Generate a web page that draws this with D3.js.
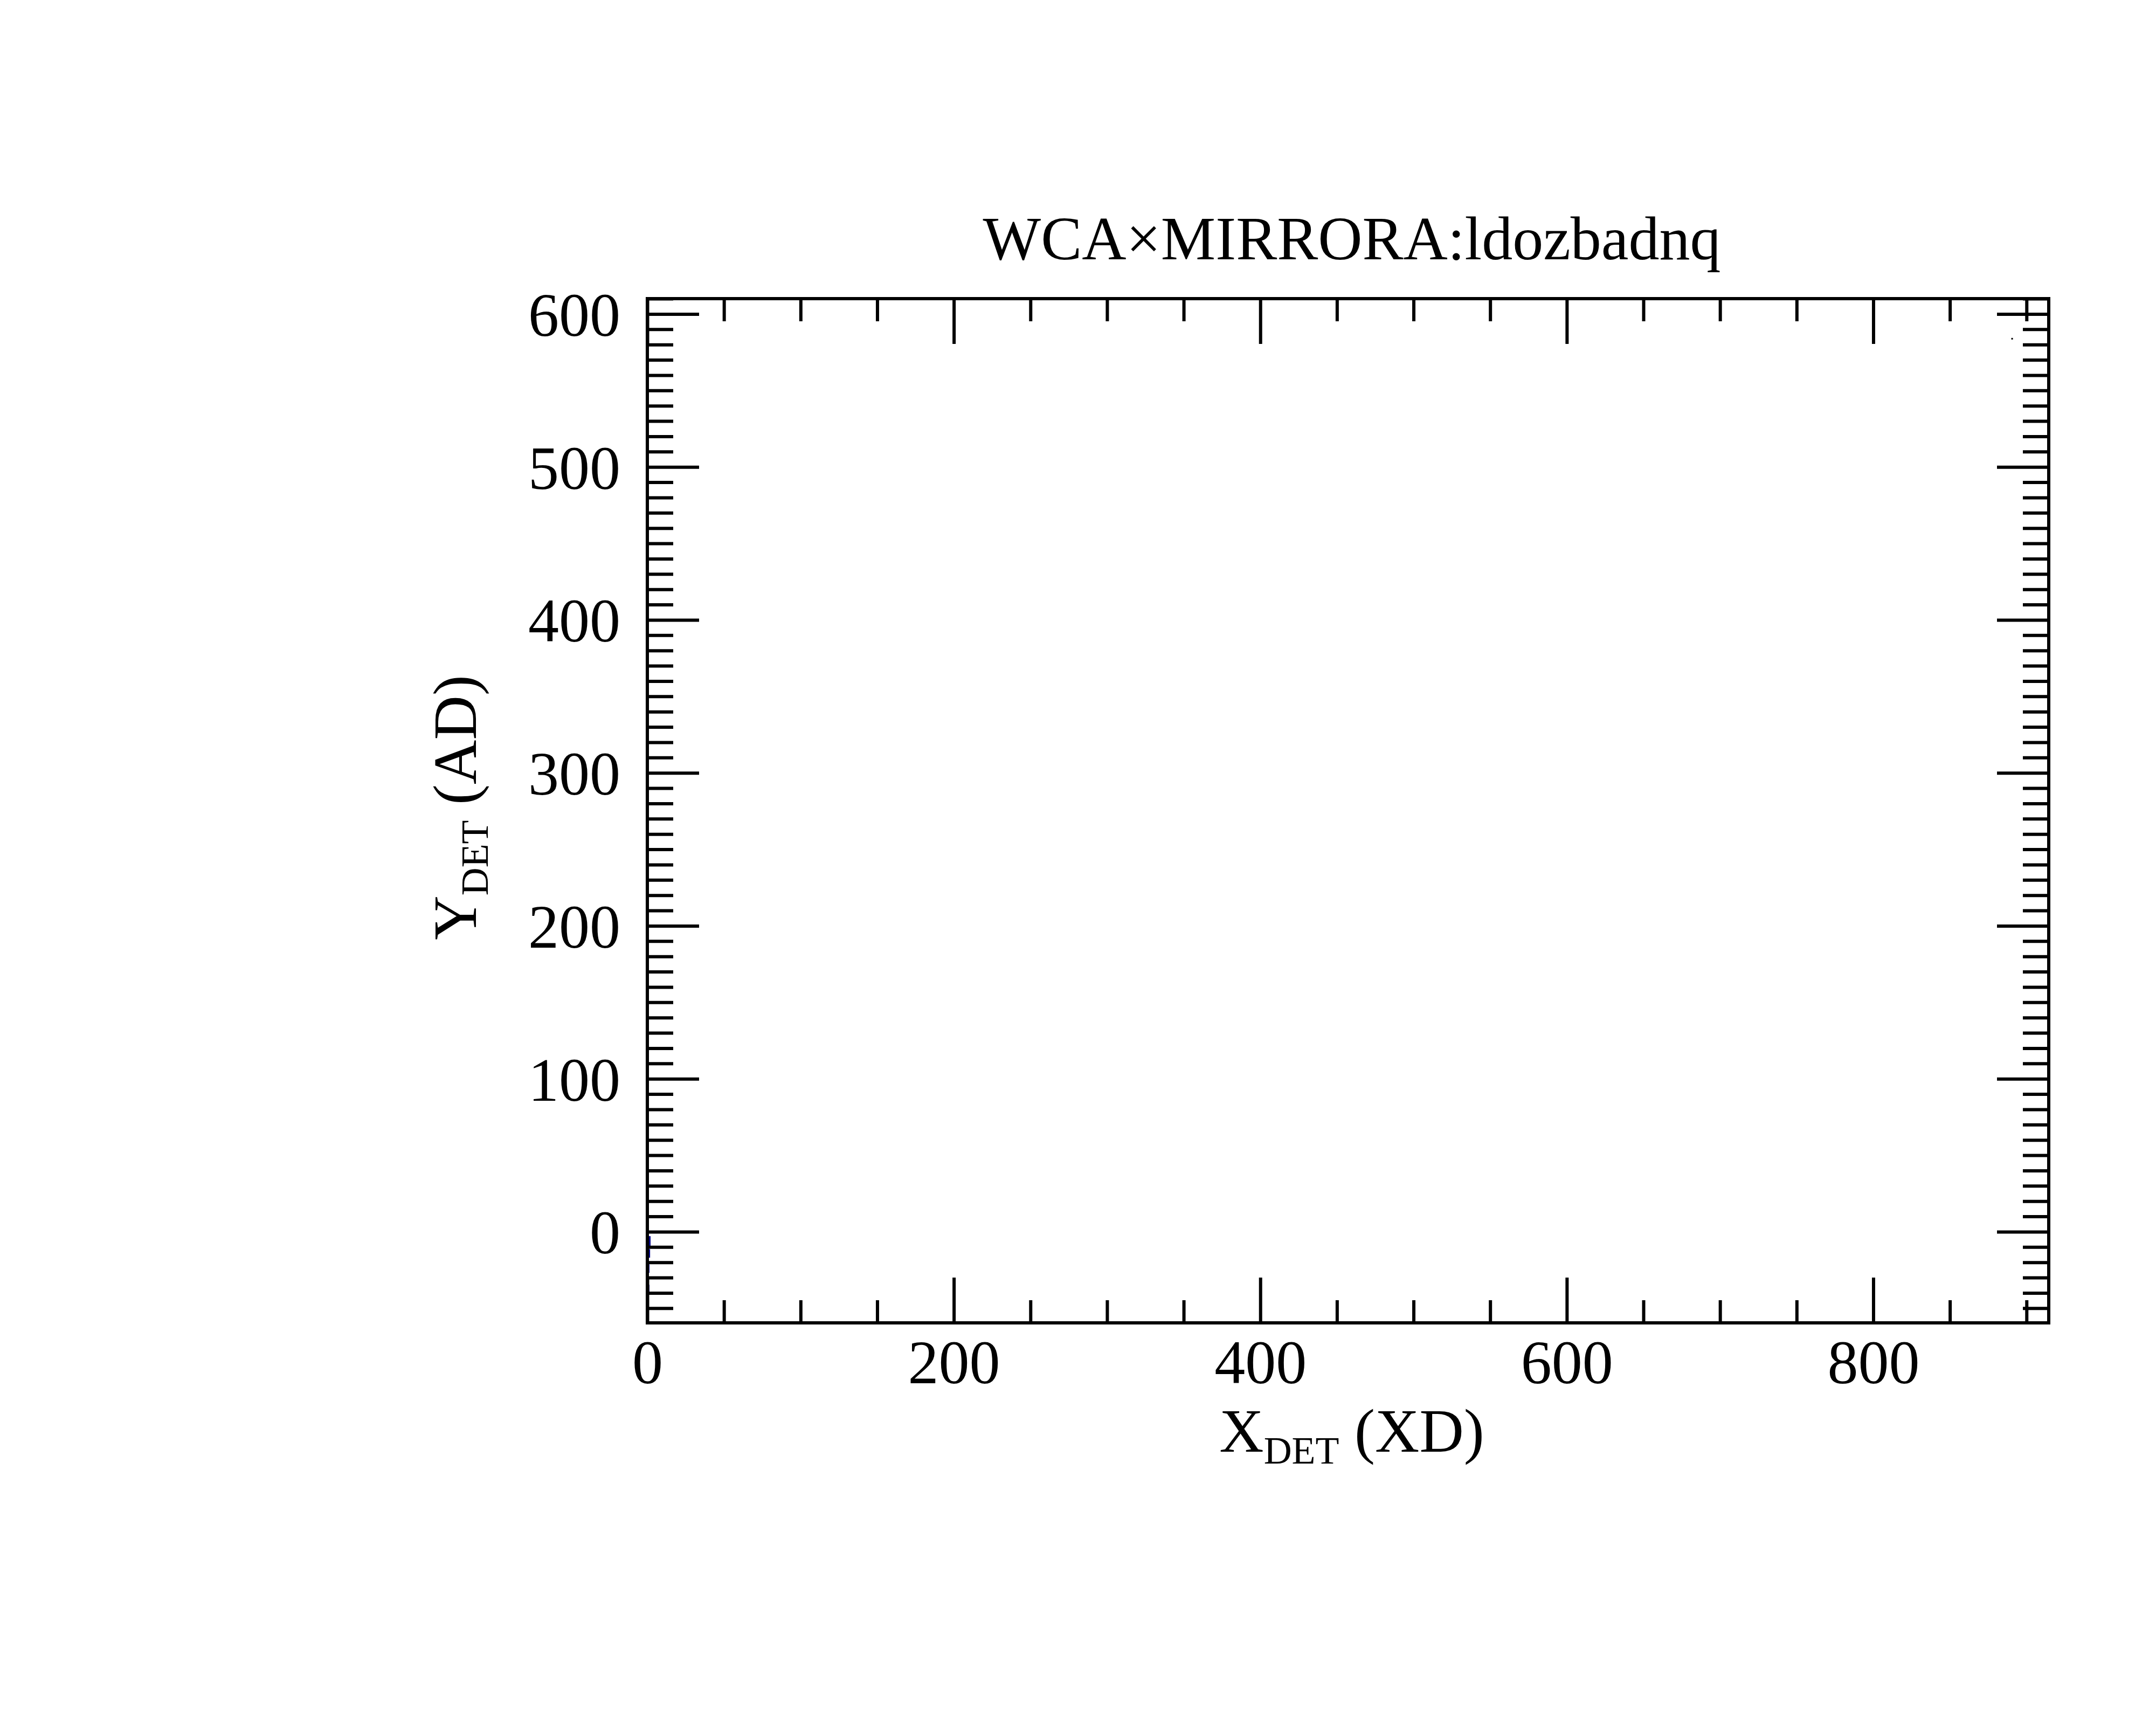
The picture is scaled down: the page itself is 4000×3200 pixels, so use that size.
<!DOCTYPE html>
<html>
<head>
<meta charset="utf-8">
<script src="https://cdn.jsdelivr.net/npm/d3@7"></script>
<style>
  body { margin: 0; background: #fff; }
  text { font-family: "Liberation Serif", "DejaVu Serif", serif; fill: #000; }
</style>
</head>
<body>
<svg id="chart" width="4000" height="3200"></svg>
<script>
const titleText = 'WCA\u00d7MIRRORA:ldozbadnq';
const xDomain = [0, 914.5];
const yDomain = [-59.6, 610];
const xMajorTicks = [0, 200, 400, 600, 800];
const yMajorTicks = [0, 100, 200, 300, 400, 500, 600];

// thin blue strips hugging x = 0
const stripY0 = [-9.3, -17, -19.1, -26.9, -41, -58.6];
const stripY1 = [-2.9, -11.4, -17, -21.3, -34.7, -41];
const stripW = [2.1, 1.8, 1, 1.4, 1.4, 1];

// lone point near the top right
const dotX = [890.6];
const dotY = [583.8];

const svg = d3.select('#chart');
const plotLeft = 1201, plotRight = 3801, plotTop = 554, plotBottom = 2454;

const x = d3.scaleLinear().domain(xDomain).range([plotLeft, plotRight]);
const y = d3.scaleLinear().domain(yDomain).range([plotBottom, plotTop]);

svg.append('rect').attr('width', 4000).attr('height', 3200).attr('fill', '#fff');

// data marks
svg.selectAll('rect.strip')
	.data(stripY0.map((v, i) => ({y0: v, y1: stripY1[i], w: stripW[i]})))
	.enter().append('rect')
	.attr('class', 'strip')
	.attr('x', x(0))
	.attr('y', d => y(d.y1))
	.attr('width', d => x(d.w) - x(0))
	.attr('height', d => y(d.y0) - y(d.y1))
	.attr('fill', '#000088');

svg.selectAll('rect.dot')
	.data(dotX.map((v, i) => [v, dotY[i]]))
	.enter().append('rect')
	.attr('class', 'dot')
	.attr('x', d => x(d[0]) - 1.5)
	.attr('y', d => y(d[1]) - 1.5)
	.attr('width', 3).attr('height', 3)
	.attr('fill', '#000');

// axes: ticks drawn inward on all four sides
const xMinor = d3.range(0, 915, 50).filter(v => v % 200 !== 0);
const yMinor = d3.range(-50, 611, 10).filter(v => v % 100 !== 0);
const sw = 6;

function axis(gen, tx, ty, ticks, size, label) {
	const g = svg.append('g').attr('transform', `translate(${tx},${ty})`)
		.call(gen.tickValues(ticks).tickSize(size).tickSizeOuter(0).tickFormat(label ? d3.format('d') : ''));
	g.select('.domain').remove();
	g.selectAll('line').attr('stroke', '#000').attr('stroke-width', sw);
	return g;
}

// bottom
const gxb = axis(d3.axisBottom(x), 0, plotBottom, xMajorTicks, -84, true);
gxb.selectAll('text').attr('font-size', 114).attr('y', 112).attr('dy', 0);
axis(d3.axisBottom(x), 0, plotBottom, xMinor, -42, false);
// top
axis(d3.axisTop(x), 0, plotTop, xMajorTicks, -84, false);
axis(d3.axisTop(x), 0, plotTop, xMinor, -42, false);
// left
const gyl = axis(d3.axisLeft(y), plotLeft, 0, yMajorTicks, -96, true);
gyl.selectAll('text').attr('font-size', 114).attr('x', -50).attr('dy', '0.35em');
axis(d3.axisLeft(y), plotLeft, 0, yMinor, -48, false);
// right
axis(d3.axisRight(y), plotRight, 0, yMajorTicks, -96, false);
axis(d3.axisRight(y), plotRight, 0, yMinor, -48, false);

// frame
svg.append('rect')
	.attr('x', plotLeft).attr('y', plotTop)
	.attr('width', plotRight - plotLeft).attr('height', plotBottom - plotTop)
	.attr('fill', 'none').attr('stroke', '#000').attr('stroke-width', sw);

// title
svg.append('text')
	.attr('x', 2508).attr('y', 481)
	.attr('text-anchor', 'middle').attr('font-size', 114)
	.text(titleText);

// x label
const xl = svg.append('text')
	.attr('x', 2508).attr('y', 2693)
	.attr('text-anchor', 'middle').attr('font-size', 114);
xl.append('tspan').text('X');
xl.append('tspan').attr('font-size', 72).attr('dy', 22).text('DET');
xl.append('tspan').attr('dy', -22).text(' (XD)');

// y label
const yl = svg.append('text')
	.attr('transform', 'translate(883,1498) rotate(-90)')
	.attr('text-anchor', 'middle').attr('font-size', 114);
yl.append('tspan').text('Y');
yl.append('tspan').attr('font-size', 72).attr('dy', 22).text('DET');
yl.append('tspan').attr('dy', -22).text(' (AD)');
</script>
</body>
</html>
